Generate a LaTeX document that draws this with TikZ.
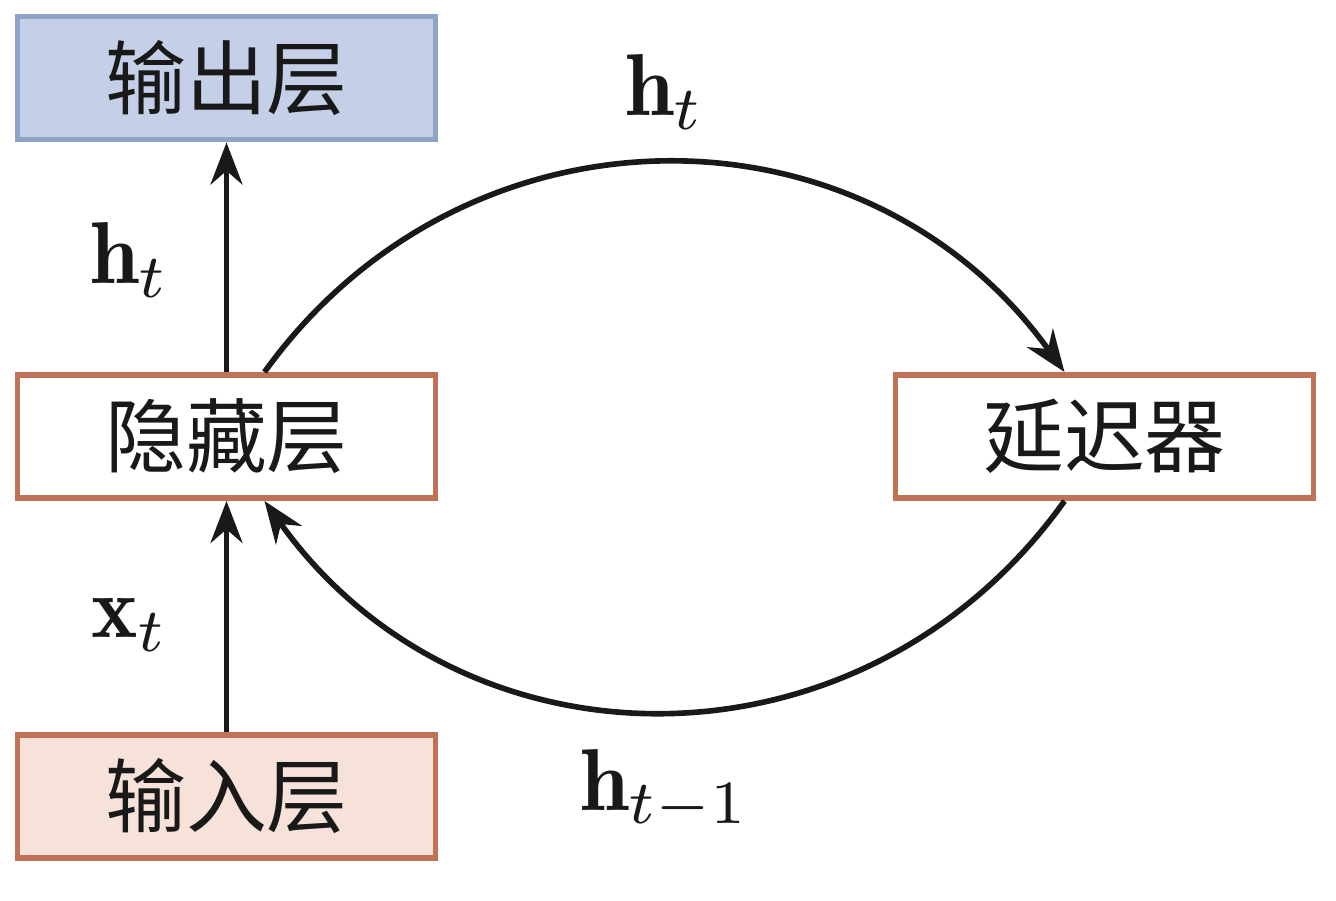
\documentclass[tikz,border=0pt]{standalone}
\usepackage{fontspec}
\newfontfamily\cjk{Noto Sans CJK SC}
\usetikzlibrary{arrows.meta}
\definecolor{outfill}{HTML}{C5CFE8}
\definecolor{outline}{HTML}{8FA3C6}
\definecolor{hidline}{HTML}{C07259}
\definecolor{infill}{HTML}{F6E2D9}

\begin{document}
\begin{tikzpicture}[x=1cm,y=-1cm,
  layer/.style={draw=hidline,line width=1.7pt,minimum width=4.18cm,minimum height=1.23cm,inner sep=0,text=black!90,font=\cjk\fontsize{23}{28}\selectfont},
  flow/.style={line width=1.6pt,black!90,-{Stealth[length=4.2mm,width=3.2mm]}},
  lbl/.style={scale=2.5,text=black!90}]
\useasboundingbox(0,0)rectangle(13.36,9);
\node[layer,draw=outline,fill=outfill](output)at(2.265,.78){输出层};
\node[layer](hidden)at(2.265,4.365){隐藏层};
\node[layer,fill=infill](input)at(2.265,7.965){输入层};
\node[layer](delay)at(11.045,4.365){延迟器};
\draw[flow](hidden)--(output);
\draw[flow](input)--(hidden);
\draw[flow]([xshift=.38cm]hidden.north)..controls +(2,-2.78) and +(-2,-2.78)..([xshift=-.4cm]delay.north);
\draw[flow]([xshift=-.4cm]delay.south)..controls +(-2,2.8) and +(2,2.8)..([xshift=.38cm]hidden.south);
\node[lbl](ht top)at(6.65,.92){$\mathbf{h}_t$};
\node[lbl](ht left)at(1.3,2.6){$\mathbf{h}_t$};
\node[lbl](xt)at(1.3,6.25){$\mathbf{x}_t$};
\node[lbl](htm)at(6.65,7.9){$\mathbf{h}_{t-1}$};
\end{tikzpicture}
\end{document}
